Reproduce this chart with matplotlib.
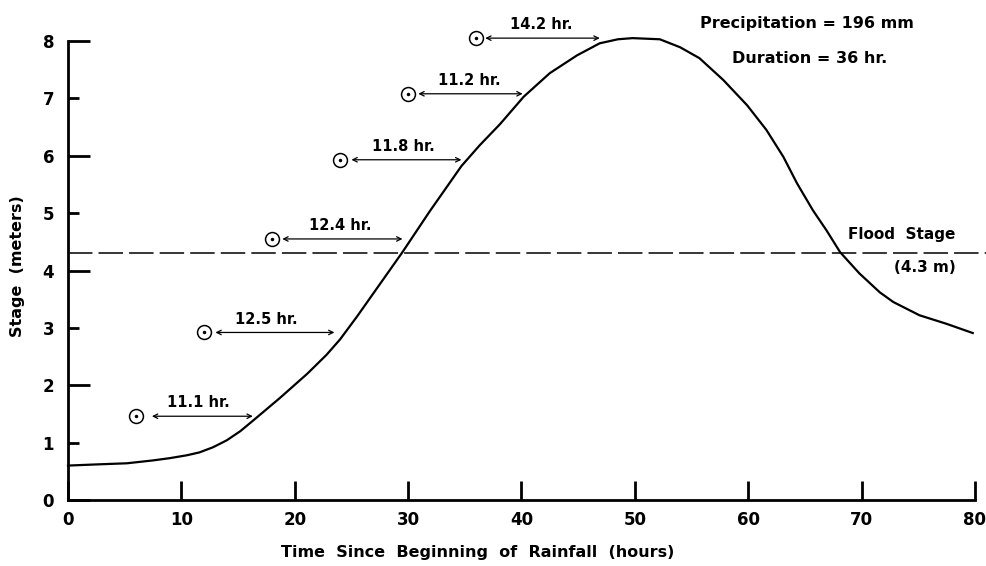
import matplotlib
matplotlib.use("Agg")
import matplotlib.pyplot as plt
from matplotlib.ticker import FixedLocator, FixedFormatter

plt.rcParams['font.family'] = ['DejaVu Sans']
plt.rcParams['font.weight'] = 'bold'

# Hydrograph (stage vs time)
curve_x = [0, 2.5, 5.2, 7.5, 9.0, 10.5, 11.6, 12.8, 14.0, 15.2, 16.3, 18.7, 21.1, 22.8, 24.0,
           25.5, 27.5, 29.5, 31.9, 34.7, 36.3, 38.1, 40.2, 41.6, 42.5, 44.9, 46.9, 48.5,
           49.8, 52.2, 54.0, 55.7, 57.8, 59.9, 61.6, 63.1, 64.3, 65.7, 66.9, 68.1, 69.8,
           71.6, 72.8, 75.1, 77.5, 79.8]
curve_y = [0.60, 0.62, 0.64, 0.69, 0.73, 0.78, 0.83, 0.92, 1.04, 1.20, 1.38, 1.78, 2.20, 2.53,
           2.80, 3.20, 3.76, 4.32, 5.03, 5.82, 6.18, 6.55, 7.03, 7.28, 7.44, 7.75, 7.96, 8.03,
           8.05, 8.03, 7.89, 7.70, 7.32, 6.88, 6.45, 5.98, 5.52, 5.05, 4.70, 4.32, 3.95,
           3.62, 3.45, 3.22, 3.07, 2.91]

# Rainfall observation points and lag times
point_x = [6, 12, 18, 24, 30, 36]
point_y = [1.46, 2.92, 4.55, 5.93, 7.08, 8.05]
arrow_start_x = [7.4, 13.0, 18.9, 25.0, 30.9, 36.8]
arrow_end_x = [16.3, 23.5, 29.5, 34.7, 40.1, 46.9]
lag_labels = ["11.1 hr.", "12.5 hr.", "12.4 hr.", "11.8 hr.", "11.2 hr.", "14.2 hr."]
label_x = [11.5, 17.5, 24.0, 29.6, 35.4, 41.7]

flood_stage = 4.3
x_ticks = [0, 10, 20, 30, 40, 50, 60, 70, 80]
y_major = [0, 2, 4, 6, 8]
y_minor = [1, 3, 5, 7]

fig = plt.figure(figsize=(9.87, 5.66), dpi=100)
ax = fig.add_axes([68/987, 1-500/566, (975-68)/987, (500-41)/566])
ax.set_xlim(0, 80)
ax.set_ylim(0, 8)

ax.plot(curve_x, curve_y, color='black', lw=1.6, clip_on=False, zorder=3,
        solid_joinstyle='round')
ax.plot([0, 81.1], [flood_stage, flood_stage], color='black', lw=1.1,
        linestyle=(0, (16, 4)), clip_on=False)

ax.plot(point_x, point_y, 'o', ms=10, mfc='white', mec='black', mew=1.1, clip_on=False, zorder=4)
ax.plot(point_x, point_y, 'o', ms=1.5, color='black', clip_on=False, zorder=5)

for xs, xe, y, lab, lx in zip(arrow_start_x, arrow_end_x, point_y, lag_labels, label_x):
    ax.annotate('', xy=(xe, y), xytext=(xs, y),
                arrowprops=dict(arrowstyle='<->', lw=0.9, color='black',
                                mutation_scale=8, shrinkA=0, shrinkB=0),
                annotation_clip=False)
    ax.text(lx, y + 0.1, lab, ha='center', va='bottom', fontsize=10.5, fontweight='bold')

ax.text(65.2, 8.31, "Precipitation = 196 mm", ha='center', va='center', fontsize=11.5, fontweight='bold')
ax.text(65.4, 7.70, "Duration = 36 hr.", ha='center', va='center', fontsize=11.5, fontweight='bold')
ax.text(73.5, 4.62, "Flood  Stage", ha='center', va='center', fontsize=11, fontweight='bold')
ax.text(75.6, 4.06, "(4.3 m)", ha='center', va='center', fontsize=11, fontweight='bold')

for s in ['top', 'right']:
    ax.spines[s].set_visible(False)
for s in ['left', 'bottom']:
    ax.spines[s].set_linewidth(2.0)

ax.set_xticks(x_ticks)
ax.set_xticklabels([str(v) for v in x_ticks])
ax.yaxis.set_major_locator(FixedLocator(y_major))
ax.yaxis.set_major_formatter(FixedFormatter([str(v) for v in y_major]))
ax.yaxis.set_minor_locator(FixedLocator(y_minor))
ax.yaxis.set_minor_formatter(FixedFormatter([str(v) for v in y_minor]))

ax.tick_params(axis='x', direction='in', length=14, width=2.0, pad=8, labelsize=12)
ax.tick_params(axis='y', which='major', direction='in', length=16, width=2.0, pad=10, labelsize=12)
ax.tick_params(axis='y', which='minor', direction='in', length=8, width=2.0, pad=10, labelsize=12)
for lab in ax.get_xticklabels() + ax.get_yticklabels() + ax.get_yticklabels(minor=True):
    lab.set_fontweight('bold')

fig.text(478/987, 1-553/566, "Time  Since  Beginning  of  Rainfall  (hours)", ha='center', va='center',
         fontsize=11.5, fontweight='bold')
fig.text(18/987, 1-266/566, "Stage  (meters)", ha='center', va='center', rotation=90,
         fontsize=11.5, fontweight='bold')

fig.savefig("out.png", dpi=100, facecolor='white')
